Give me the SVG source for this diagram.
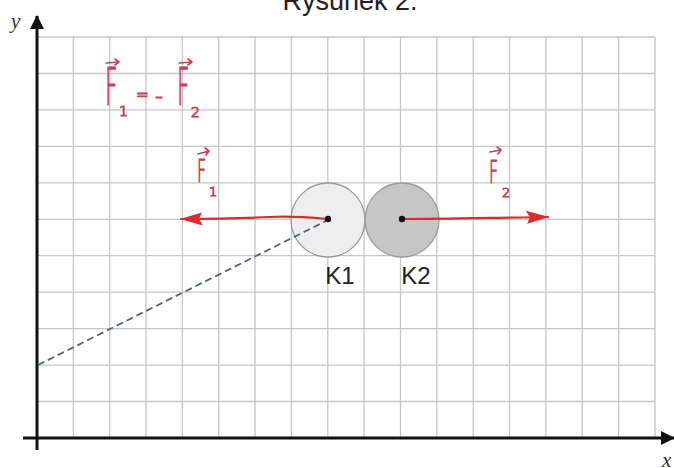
<svg xmlns="http://www.w3.org/2000/svg" width="674" height="468" viewBox="0 0 674 468">
<style>
.grid{stroke:#c6c6c6;stroke-width:1.3;fill:none}
.axis{stroke:#111;stroke-width:3;fill:none}
.title{font-family:"Liberation Sans",Arial,sans-serif;font-size:27px;fill:#222}
.klabel{font-family:"Liberation Sans",Arial,sans-serif;font-size:24px;fill:#222}
.axlabel{font-family:"Liberation Serif","Times New Roman",serif;font-style:italic;font-size:21px;fill:#333}
.hand{font-family:"DejaVu Sans","Liberation Sans",sans-serif;font-weight:200;fill:#c8404e;stroke:#c8404e;stroke-width:1.1}
.vec{stroke:#c8404e;stroke-width:1.6;fill:none;stroke-linecap:round;stroke-linejoin:round}
.force{stroke:#dd2a2e;stroke-width:2.2;fill:none;stroke-linecap:round}
.dash{stroke:#4d6677;stroke-width:1.8;stroke-dasharray:7 4;fill:none}
.ball{stroke:#9a9a9a;stroke-width:1.3}
</style>
<defs>
<marker id="redhead" viewBox="0 0 23 15" refX="22" refY="7.5" markerWidth="23" markerHeight="15" markerUnits="userSpaceOnUse" orient="auto">
<path d="M0,1 L23,7.5 L1,14 L4,7.5 Z" fill="#dd2a2e"/>
</marker>
<marker id="axhead" viewBox="0 0 14 14" refX="13" refY="7" markerWidth="14" markerHeight="14" markerUnits="userSpaceOnUse" orient="auto">
<path d="M0,0 L14,7 L0,14 Z" fill="#111"/>
</marker>
</defs>
<rect width="674" height="468" fill="#fff"/>
<text class="title" x="350" y="10" text-anchor="middle">Rysunek 2.</text>
<g id="grid" class="grid">
<path d="M73.4,37V438M109.7,37V438M146,37V438M182.4,37V438M218.7,37V438M255,37V438M291.4,37V438M327.8,37V438M364.1,37V438M400.5,37V438M436.8,37V438M473.2,37V438M509.5,37V438M545.9,37V438M582.2,37V438M618.6,37V438M655,37V438"/>
<path d="M37,37H655M37,73.5H655M37,109.9H655M37,146.4H655M37,182.8H655M37,219.3H655M37,255.7H655M37,292.2H655M37,328.6H655M37,365.1H655M37,401.5H655"/>
</g>
<g id="axes">
<line class="axis" x1="37" y1="450" x2="37" y2="16" marker-end="url(#axhead)"/>
<line class="axis" x1="23" y1="438" x2="674" y2="438" marker-end="url(#axhead)"/>
<text class="axlabel" x="11" y="28">y</text>
<text class="axlabel" x="662" y="467">x</text>
</g>
<g id="K1">
<circle class="ball" cx="328" cy="220" r="37" fill="#eeeeee"/>
<text class="klabel" x="340" y="284" text-anchor="middle">K1</text>
</g>
<g id="K2">
<circle class="ball" cx="402" cy="220" r="37" fill="#c6c6c6"/>
<text class="klabel" x="416" y="284" text-anchor="middle">K2</text>
</g>
<g id="connectors">
<path id="dashed" class="dash" d="M38,365 L326,221"/>
<path id="F1-arrow" class="force" d="M327,219 C305,217 290,216 270,217 C250,218 225,219 181,219" marker-end="url(#redhead)"/>
<path id="F2-arrow" class="force" d="M402,219 C440,219 480,218 548,217" marker-end="url(#redhead)"/>
<circle cx="328" cy="219" r="3.2" fill="#111"/>
<circle cx="402" cy="219" r="3.2" fill="#111"/>
</g>
<g id="equation">
<text class="hand" font-size="52" transform="translate(105,105) scale(0.42,1)">F</text>
<text class="hand" font-size="14" x="119" y="116">1</text>
<text class="hand" font-size="15" x="136" y="100">=</text>
<text class="hand" font-size="22" x="155" y="103">-</text>
<text class="hand" font-size="52" transform="translate(177,105) scale(0.42,1)">F</text>
<text class="hand" font-size="14" x="191" y="117">2</text>
<path class="vec" d="M106,63 L119,62 M115,59 L119,62 L115,65"/>
<path class="vec" d="M179,63 L192,62 M188,59 L192,62 L188,65"/>
</g>
<g id="F1-label">
<text class="hand" font-size="32" transform="translate(197,182) scale(0.5,1)">F</text>
<text class="hand" font-size="13" x="209" y="196">1</text>
<path class="vec" d="M198,154 L209,151 M205,148 L209,151 L206,155"/>
</g>
<g id="F2-label">
<text class="hand" font-size="32" transform="translate(489,183) scale(0.5,1)">F</text>
<text class="hand" font-size="13" x="502" y="197">2</text>
<path class="vec" d="M490,152 L501,150 M497,147 L501,150 L498,154"/>
</g>
</svg>
